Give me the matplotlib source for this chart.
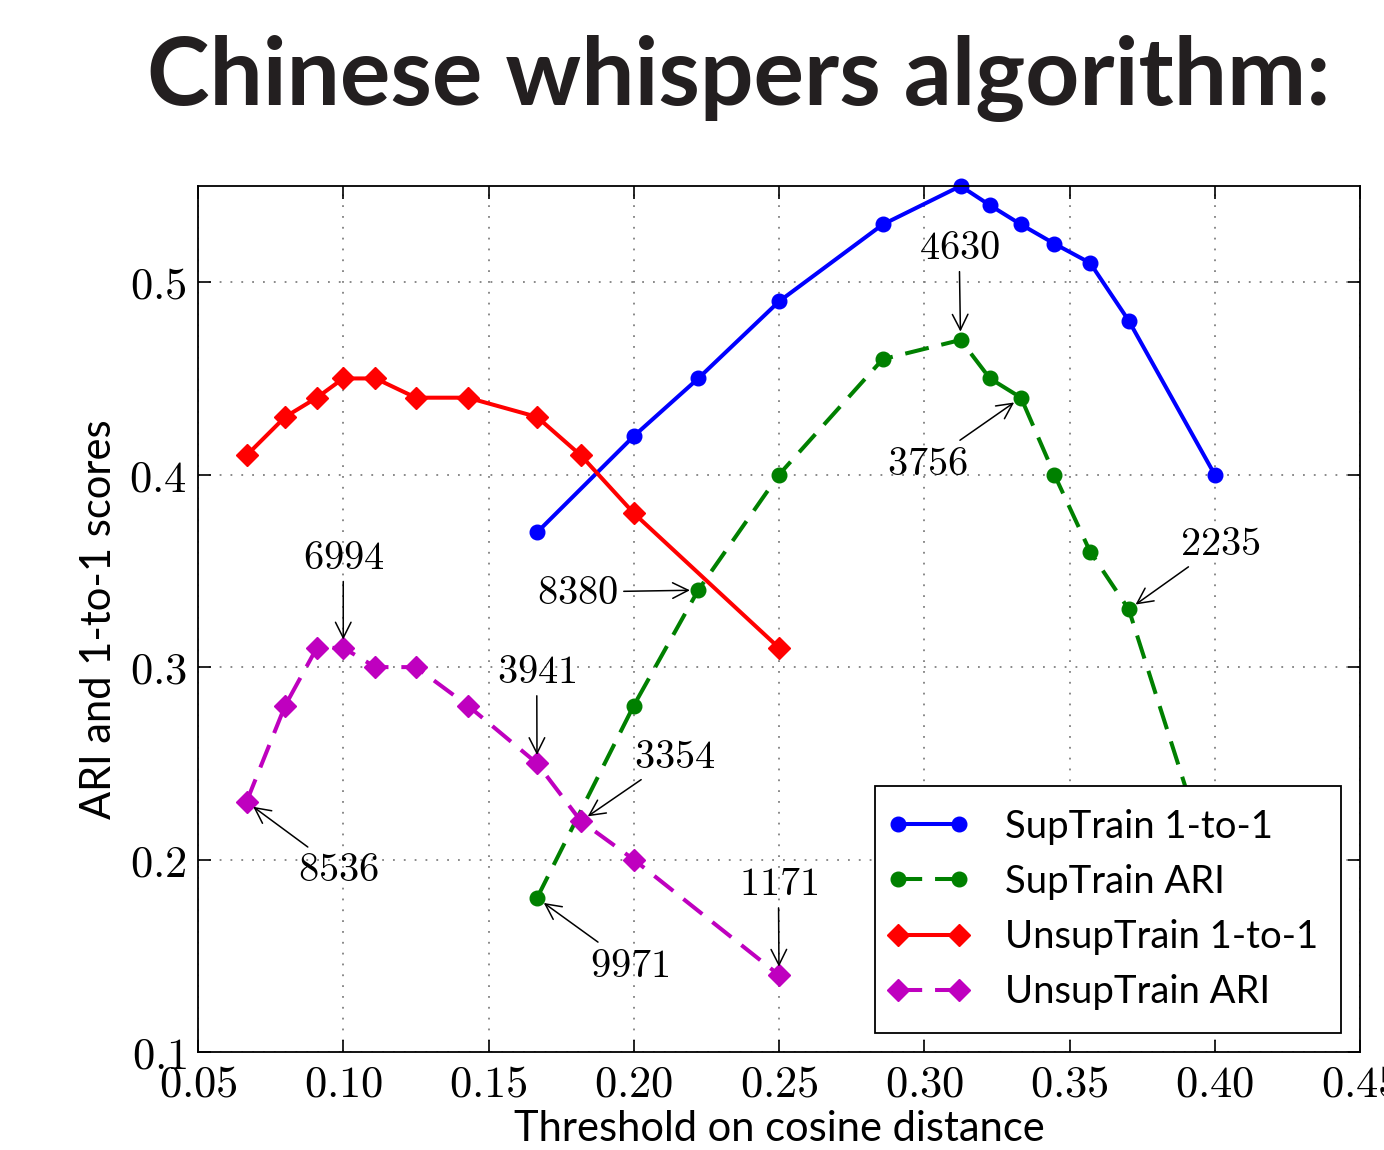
import matplotlib
matplotlib.use('Agg')
import matplotlib.pyplot as plt
from matplotlib.legend_handler import HandlerLine2D

# thresholds on cosine distance
sup_x = [0.1667, 0.2, 0.2222, 0.25, 0.2857, 0.3125, 0.3226, 0.3333, 0.3448, 0.3571, 0.3704, 0.40]
sup_1to1 = [0.37, 0.42, 0.45, 0.49, 0.53, 0.55, 0.54, 0.53, 0.52, 0.51, 0.48, 0.40]
sup_ari = [0.18, 0.28, 0.34, 0.40, 0.46, 0.47, 0.45, 0.44, 0.40, 0.36, 0.33, 0.19]

unsup_x = [0.0667, 0.08, 0.0909, 0.10, 0.1111, 0.125, 0.1429, 0.1667, 0.1818, 0.2, 0.25]
unsup_1to1 = [0.41, 0.43, 0.44, 0.45, 0.45, 0.44, 0.44, 0.43, 0.41, 0.38, 0.31]
unsup_ari = [0.23, 0.28, 0.31, 0.31, 0.30, 0.30, 0.28, 0.25, 0.22, 0.20, 0.14]

# number of clusters: (label, point x, point y, text x, text y)
notes = [
    ('4630', 0.3125, 0.47, 0.312, 0.518),
    ('3756', 0.3333, 0.44, 0.301, 0.406),
    ('2235', 0.3704, 0.33, 0.402, 0.364),
    ('8380', 0.2222, 0.34, 0.1807, 0.339),
    ('6994', 0.10, 0.31, 0.10, 0.357),
    ('3941', 0.1667, 0.25, 0.1666, 0.2976),
    ('3354', 0.1818, 0.22, 0.214, 0.2534),
    ('8536', 0.0667, 0.23, 0.0985, 0.1946),
    ('9971', 0.1667, 0.18, 0.1986, 0.1452),
    ('1171', 0.25, 0.14, 0.2498, 0.1874),
]

xticks = [0.05, 0.10, 0.15, 0.20, 0.25, 0.30, 0.35, 0.40, 0.45]
yticks = [0.1, 0.2, 0.3, 0.4, 0.5]

plt.rcParams['mathtext.fontset'] = 'cm'
plt.rcParams['font.family'] = ['Lato', 'DejaVu Sans']

fig = plt.figure(figsize=(13.84, 11.5), dpi=100)
ax = fig.add_axes([198 / 1384, 98 / 1150, 1162 / 1384, 866 / 1150])

ax.plot(sup_x, sup_1to1, '-o', color='blue', lw=2.9, ms=10.5, label='SupTrain 1-to-1', clip_on=False)
ax.plot(sup_x, sup_ari, '--o', color='green', lw=2.9, ms=10.5, dashes=(6, 3.2), label='SupTrain ARI')
ax.plot(unsup_x, unsup_1to1, '-D', color='red', lw=2.9, ms=11, label='UnsupTrain 1-to-1')
ax.plot(unsup_x, unsup_ari, '--D', color='m', lw=2.9, ms=11, dashes=(6, 3.2), label='UnsupTrain ARI')

for txt, px, py, tx, ty in notes:
    ax.annotate('$%s$' % txt, xy=(px, py), xytext=(tx, ty), fontsize=29,
                ha='center', va='center',
                arrowprops=dict(arrowstyle='->', color='black', lw=1.1,
                                mutation_scale=28, shrinkA=2, shrinkB=6))

ax.set_xlim(0.05, 0.45)
ax.set_ylim(0.1, 0.55)
ax.set_xticks(xticks)
ax.set_yticks(yticks)
ax.set_xticklabels(['$%.2f$' % v for v in xticks], fontsize=32)
ax.set_yticklabels(['$%.1f$' % v for v in yticks], fontsize=32)
ax.tick_params(direction='in', length=9, width=1.2, top=True, right=True, pad=8)
ax.grid(True, linestyle=(0, (1, 5)), color='gray', lw=1.3)
for s in ax.spines.values():
    s.set_linewidth(1.3)

ax.set_xlabel('Threshold on cosine distance', fontsize=30, labelpad=4)
ax.set_ylabel('ARI and 1-to-1 scores', fontsize=30, labelpad=8)

leg = ax.legend(loc='lower right', fontsize=27.5, handlelength=1.6,
                handletextpad=1.2, fancybox=False, edgecolor='black',
                framealpha=1, borderaxespad=0.5, labelspacing=0.5, borderpad=0.6,
                handler_map={matplotlib.lines.Line2D: HandlerLine2D(numpoints=2, marker_pad=0.0)})
leg.get_frame().set_linewidth(1.3)

fig.text(0.5335, 1 - 105 / 1150, 'Chinese whispers algorithm:', fontsize=68,
         fontweight='bold', color='#231f20', ha='center', va='baseline')

fig.savefig('out.png', dpi=100)
